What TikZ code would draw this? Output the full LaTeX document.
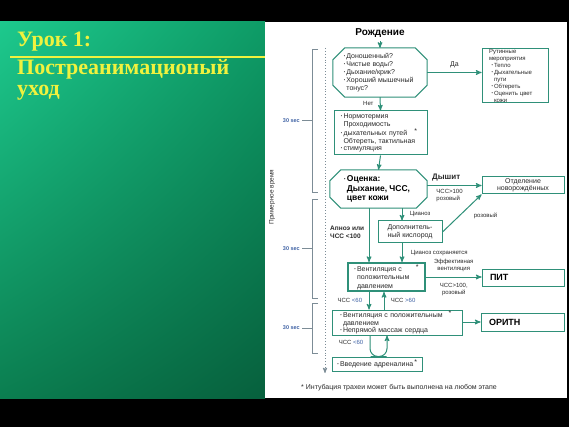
\documentclass[tikz,border=0pt]{standalone}
\usepackage{fontspec}
\setmainfont{Liberation Serif}
\setsansfont{Liberation Sans}
\usetikzlibrary{arrows,positioning,shadings}

\definecolor{flowteal}{HTML}{2F9079}
\definecolor{inkgray}{HTML}{2A2A2A}
\definecolor{secblue}{HTML}{4063A5}
\definecolor{timegray}{HTML}{7C8C96}
\definecolor{titleyellow}{HTML}{F0F23E}
\definecolor{greenUL}{HTML}{1DC98D}
\definecolor{greenUR}{HTML}{0E9B66}
\definecolor{greenLL}{HTML}{0B7E50}
\definecolor{greenLR}{HTML}{07603D}

% small bullet hanging left of a line
\newcommand{\bul}{\leavevmode\llap{\raisebox{0.25ex}{\fontsize{4}{4}\selectfont\textbullet}\,}}
\newcommand{\intubmark}[1]{\rlap{\hspace{#1}\raisebox{2pt}{*}}}

\begin{document}
\begin{tikzpicture}[x=1pt,y=-1pt,>=stealth',auto,thin]
\tikzstyle{every node}=[font=\sffamily\fontsize{7}{7.5}\selectfont, text=inkgray]
\tikzstyle{box}=[draw=flowteal, line width=1pt, fill=white, inner sep=0pt, align=left]
\tikzstyle{octa}=[inner sep=0pt, align=left]
\tikzstyle{link}=[->, draw=flowteal, line width=1pt]
\tikzstyle{lbl}=[font=\sffamily\fontsize{6}{7}\selectfont, align=center]
\tikzstyle{title}=[font=\rmfamily\bfseries\fontsize{22}{24}\selectfont, text=titleyellow, anchor=base west, inner sep=0pt]
\tikzstyle{sec}=[font=\sffamily\bfseries\fontsize{5.5}{6}\selectfont, text=secblue, anchor=east, inner sep=1pt]

\useasboundingbox (0,0) rectangle (569,427);
\fill[black] (0,0) rectangle (569,427);
\shade[upper left=greenUL, upper right=greenUR, lower left=greenLL, lower right=greenLR] (0,22) rectangle (265,398);
\fill[white] (265,22) rectangle (567,398);

% title
\node[title] (lesson) at (17,47) {Урок 1:};
\draw[titleyellow, line width=2.5pt] (10,57) -- (265,57);
\node[title] (topic) at (17,75) {Постреанимационый};
\node[title] (care) at (17,96) {уход};

% time scale
\coordinate (ttop) at (325,48);
\coordinate (tbot) at (325,373);
\draw[->, timegray, line width=0.9pt, dotted] (ttop) -- (tbot);
\foreach \ya/\yb in {49/192, 199/298, 303/353}{
  \draw[timegray, line width=0.8pt] (318,\ya) -| (312,\yb) -- (318,\yb);
  \draw[timegray, line width=0.8pt] (302,{(\ya+\yb)/2}) -- (312,{(\ya+\yb)/2});
  \node[sec] at (301,{(\ya+\yb)/2}) {30 sec};
}
\node[rotate=90, font=\sffamily\fontsize{6.5}{7}\selectfont] (timing) at (272,197) {Примерное время};

% flow
\node[font=\sffamily\bfseries\fontsize{10}{12}\selectfont, text=black] (birth) at (380,33) {Рождение};
\node[octa, minimum width=94pt, minimum height=49pt, font=\sffamily\fontsize{7}{8}\selectfont] (check) at (380,72.5)
  {\bul Доношенный?\\ \bul Чистые воды?\\ \bul Дыхание/крик?\\ \bul Хороший мышечный\\ тонус?};
\node[box, minimum height=54pt, inner xsep=7pt, text width=52pt, font=\sffamily\fontsize{6}{7}\selectfont] (routine) at (515,76)
  {Рутинные\\ мероприятия\\ \hspace*{5pt}\bul Тепло\\ \hspace*{5pt}\bul Дыхательные\\ \hspace*{5pt}пути\\ \hspace*{5pt}\bul Обтереть\\ \hspace*{5pt}\bul Оценить цвет\\ \hspace*{5pt}кожи};
\node[box, minimum height=44pt, inner xsep=9.5pt, text width=74pt, font=\sffamily\fontsize{7}{7.7}\selectfont] (clear) at (380.5,133)
  {\bul Нормотермия\\ Проходимость\\ \bul дыхательных путей\intubmark{7pt}\\ Обтереть, тактильная\\ \bul стимуляция};
\node[octa, minimum width=97pt, minimum height=38pt, font=\sffamily\bfseries\fontsize{8.5}{9.5}\selectfont, text=black] (eval) at (378.5,189)
  {\bul Оценка:\\ Дыхание, ЧСС,\\ цвет кожи};
\foreach \n/\c in {check/12, eval/11}{
  \draw[flowteal, line width=1pt] ([xshift=\c pt]\n.north west) -- ([xshift=-\c pt]\n.north east)
    -- ([yshift=-\c pt]\n.north east) -- ([yshift=\c pt]\n.south east) -- ([xshift=-\c pt]\n.south east)
    -- ([xshift=\c pt]\n.south west) -- ([yshift=\c pt]\n.south west) -- ([yshift=-\c pt]\n.north west) -- cycle;
}
\node[box, minimum width=82pt, minimum height=17pt, align=center] (nicu) at (523,185.5) {Отделение\\ новорождённых};
\node[box, minimum width=64pt, minimum height=22pt, align=center, font=\sffamily\fontsize{7}{8.5}\selectfont] (oxygen) at (410,232)
  {Дополнитель-\\ ный кислород};
\node[box, line width=2pt, minimum height=28pt, inner xsep=9pt, text width=59pt, font=\sffamily\fontsize{7}{8.5}\selectfont] (vent) at (386.5,277)
  {\bul Вентиляция с\intubmark{14pt}\\ положительным\\ давлением};
\node[box, minimum height=17pt, inner xsep=8pt, text width=66pt, font=\sffamily\bfseries\fontsize{9}{10}\selectfont, text=black] (pit) at (523,277.5) {ПИТ};
\node[box, minimum height=25pt, inner xsep=11pt, text width=108pt, font=\sffamily\fontsize{7}{7.5}\selectfont] (cpr) at (397,322.5)
  {\bul Вентиляция с положительным\intubmark{6pt}\\ давлением\\ \bul Непрямой массаж сердца};
\node[box, minimum height=18pt, inner xsep=8pt, text width=67pt, font=\sffamily\bfseries\fontsize{9}{10}\selectfont, text=black] (ritn) at (522.5,322) {ОРИТН};
\node[box, minimum height=14pt, inner xsep=8pt, text width=74pt] (adren) at (377,364)
  {\bul Введение адреналина\intubmark{1pt}};
\node[font=\sffamily\fontsize{7}{7.5}\selectfont] (note) at (399,388) {* Интубация трахеи может быть выполнена на любом этапе};

% connectors
\draw[link] (birth) -- (check);
\draw[link] (check.east) -- (check.east -| routine.west) node[midway, above=1pt] {Да};
\draw[link] (check.south) -- (clear.north) node[midway, left=3pt, lbl] {Нет};
\draw[link] (clear.south) -- (eval.north);
\draw[link] (eval.east |- nicu.west) -- (nicu.west)
  node[pos=0.35, above=1pt, font=\sffamily\bfseries\fontsize{8}{9}\selectfont] {Дышит}
  node[pos=0.1, anchor=north west, lbl, align=left] {ЧСС>100\\ розовый};
\draw[link] ([xshift=-8pt]oxygen.north |- eval.south) -- ([xshift=-8pt]oxygen.north)
  node[midway, right=4pt, lbl] {Цианоз};
\draw[link] (oxygen.east) -- (nicu.south west)
  node[midway, anchor=west, xshift=8pt, yshift=-3pt, lbl] {розовый};
\draw[link] ([xshift=-17.5pt]vent.north |- eval.south) -- ([xshift=-17.5pt]vent.north)
  node[pos=0.45, left=1pt, align=left, font=\sffamily\bfseries\fontsize{6.5}{8}\selectfont] {Апноэ или\\ ЧСС <100};
\draw[link] ([xshift=-8pt]oxygen.south) -- ([xshift=-8pt]oxygen.south |- vent.north)
  node[midway, right=5pt, lbl] {Цианоз сохраняется};
\draw[link] (vent.east) -- (vent.east -| pit.west)
  node[midway, above=1pt, lbl] {Эффективная\\ вентиляция}
  node[midway, below=2pt, lbl] {ЧСС>100,\\ розовый};
\draw[link] ([xshift=-17.5pt]vent.south) -- ([xshift=-17.5pt]vent.south |- cpr.north)
  node[midway, left=3pt, lbl] {ЧСС \textcolor{secblue}{<60}};
\draw[link] ([xshift=-2.5pt]vent.south |- cpr.north) -- ([xshift=-2.5pt]vent.south)
  node[midway, right=3pt, lbl] {ЧСС \textcolor{secblue}{>60}};
\draw[link] (cpr.east |- ritn.west) -- (ritn.west);
\draw[link, rounded corners=8pt] ([xshift=-27pt]cpr.south) |- ([xshift=1.5pt]adren.north) -| ([xshift=-10pt]cpr.south);
\node[lbl] (cprnote) at (351,342) {ЧСС \textcolor{secblue}{<60}};
\end{tikzpicture}
\end{document}
